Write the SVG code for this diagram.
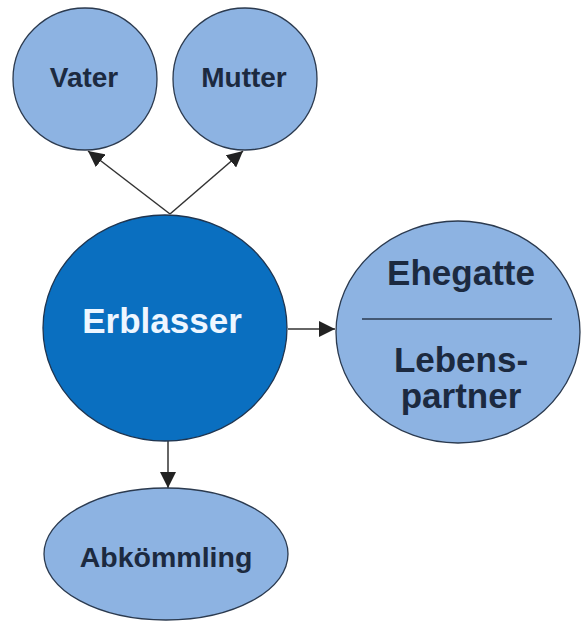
<svg xmlns="http://www.w3.org/2000/svg" width="588" height="622" viewBox="0 0 588 622">
<defs>
<style>
.n{fill:#8db3e2;stroke:#2b3a4f;stroke-width:1.3}
.m{fill:#0a6fc0;stroke:#1f3550;stroke-width:1.3}
.t{font-family:"Liberation Sans",Arial,sans-serif;font-weight:bold;fill:#1c2a40;text-anchor:middle}
.w{fill:#eef6ff}
.c{stroke:#333;stroke-width:1.5;fill:none}
</style>
<marker id="ah" viewBox="0 0 10 10" refX="10" refY="5" markerWidth="16" markerHeight="16" markerUnits="userSpaceOnUse" orient="auto"><path d="M0,0L10,5L0,10z" fill="#222"/></marker>
</defs>
<rect width="588" height="622" fill="#fff"/>
<g id="connectors">
<line class="c" x1="170" y1="214" x2="88" y2="151" marker-end="url(#ah)"/>
<line class="c" x1="170" y1="214" x2="243" y2="151" marker-end="url(#ah)"/>
<line class="c" x1="288" y1="329" x2="335" y2="329" marker-end="url(#ah)"/>
<line class="c" x1="168" y1="441" x2="168" y2="488" marker-end="url(#ah)"/>
</g>
<g id="vater">
<ellipse class="n" cx="85" cy="79" rx="72" ry="71"/>
<text class="t" x="84" y="87" font-size="28">Vater</text>
</g>
<g id="mutter">
<ellipse class="n" cx="245" cy="79" rx="72" ry="71"/>
<text class="t" x="244" y="87" font-size="28">Mutter</text>
</g>
<g id="erblasser">
<ellipse class="m" cx="165" cy="328" rx="122" ry="113"/>
<text class="t w" x="162" y="333" font-size="35">Erblasser</text>
</g>
<g id="ehegatte">
<ellipse class="n" cx="458" cy="332" rx="122" ry="111"/>
<line x1="362" y1="319" x2="552" y2="319" stroke="#2b3a4f" stroke-width="1.3"/>
<text class="t" x="461" y="285" font-size="35">Ehegatte</text>
<text class="t" x="461" y="372" font-size="35">Lebens-</text>
<text class="t" x="461" y="408" font-size="35">partner</text>
</g>
<g id="abkoemmling">
<ellipse class="n" cx="166" cy="554" rx="122" ry="66"/>
<text class="t" x="166" y="567" font-size="28.5">Abkömmling</text>
</g>
</svg>
